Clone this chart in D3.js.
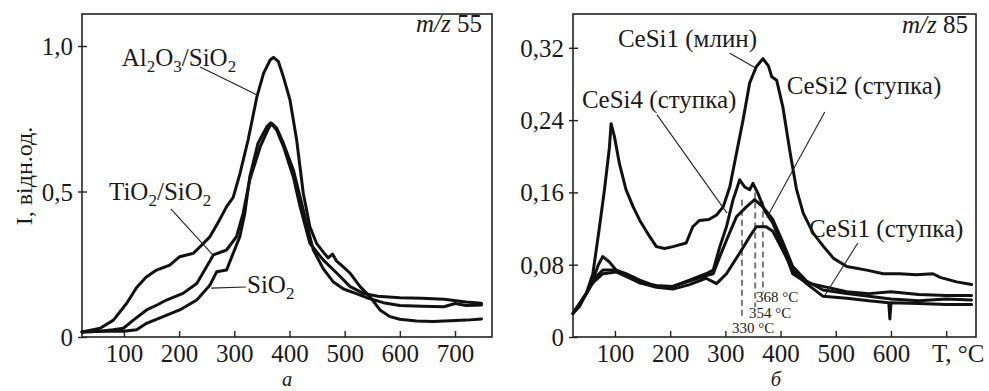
<!DOCTYPE html>
<html><head><meta charset="utf-8">
<script src="https://cdn.jsdelivr.net/npm/d3@7"></script>
<style>
html,body{margin:0;padding:0;background:#fff;}
svg{display:block;}
text{font-family:"Liberation Serif","DejaVu Serif",serif;fill:#1a1a1a;}
</style></head>
<body><svg id="c" width="989" height="391"></svg>
<script>
// ---------- DATA ----------
// Panel a (m/z 55): [T, I]
const al2o3 = [[24,0.017],[57,0.03],[81,0.058],[105,0.116],[123,0.17],[140,0.205],[159,0.23],[183,0.247],[201,0.276],[226,0.288],[238,0.31],[256,0.345],[274,0.405],[286,0.448],[298,0.48],[310,0.56],[325,0.677],[341,0.826],[353,0.906],[365,0.952],[371,0.961],[380,0.946],[389,0.894],[401,0.814],[413,0.677],[425,0.494],[437,0.379],[449,0.322],[462,0.29],[470,0.272],[478,0.285],[485,0.262],[497,0.242],[510,0.219],[528,0.173],[546,0.138],[564,0.093],[582,0.07],[600,0.061],[630,0.055],[660,0.053],[691,0.056],[721,0.058],[748,0.062]];
const tio2 = [[24,0.017],[57,0.02],[80,0.025],[99,0.03],[117,0.058],[141,0.093],[160,0.11],[177,0.127],[207,0.15],[232,0.184],[250,0.242],[262,0.282],[286,0.299],[304,0.345],[316,0.425],[328,0.54],[347,0.654],[362,0.717],[368,0.734],[377,0.717],[389,0.666],[407,0.574],[422,0.46],[431,0.39],[443,0.3],[461,0.235],[479,0.19],[498,0.165],[520,0.15],[540,0.135],[570,0.118],[600,0.108],[640,0.106],[680,0.104],[700,0.115],[720,0.108],[748,0.11]];
const sio2 = [[24,0.017],[60,0.02],[99,0.02],[123,0.025],[141,0.047],[171,0.07],[201,0.093],[232,0.127],[256,0.179],[268,0.224],[286,0.23],[298,0.288],[310,0.345],[319,0.425],[328,0.55],[343,0.666],[359,0.723],[366,0.736],[377,0.71],[389,0.655],[407,0.55],[419,0.45],[437,0.322],[461,0.265],[486,0.219],[510,0.173],[534,0.15],[560,0.14],[600,0.135],[640,0.133],[680,0.13],[720,0.12],[748,0.116]];
// Panel б (m/z 85)
const cesi1mlin = [[24,0.026],[36,0.034],[48,0.048],[60,0.07],[72,0.122],[81,0.163],[90,0.21],[93,0.236],[99,0.222],[108,0.192],[120,0.163],[133,0.144],[145,0.129],[163,0.111],[175,0.1],[190,0.098],[205,0.1],[229,0.104],[241,0.122],[253,0.129],[270,0.13],[284,0.135],[296,0.144],[308,0.166],[320,0.203],[332,0.24],[344,0.281],[356,0.299],[368,0.308],[378,0.3],[384,0.288],[393,0.284],[404,0.255],[417,0.205],[429,0.163],[441,0.137],[459,0.115],[478,0.1],[496,0.087],[520,0.078],[556,0.074],[586,0.07],[616,0.07],[646,0.069],[676,0.07],[689,0.066],[719,0.061],[746,0.058]];
const cesi4 = [[24,0.026],[48,0.048],[60,0.063],[70,0.08],[78,0.089],[90,0.083],[102,0.074],[120,0.07],[145,0.063],[175,0.056],[205,0.056],[235,0.063],[265,0.07],[278,0.074],[290,0.1],[302,0.122],[314,0.152],[326,0.174],[335,0.166],[344,0.163],[350,0.17],[359,0.159],[371,0.14],[386,0.126],[404,0.1],[422,0.07],[447,0.06],[477,0.056],[520,0.05],[560,0.048],[600,0.05],[650,0.047],[700,0.046],[746,0.046]];
const cesi2 = [[24,0.026],[48,0.048],[60,0.063],[78,0.074],[102,0.074],[120,0.068],[145,0.06],[175,0.057],[205,0.056],[235,0.062],[265,0.068],[278,0.07],[290,0.089],[302,0.107],[320,0.133],[338,0.144],[353,0.152],[368,0.144],[386,0.13],[404,0.105],[422,0.078],[447,0.062],[477,0.052],[520,0.048],[560,0.045],[600,0.042],[650,0.04],[700,0.042],[746,0.041]];
const cesi1st = [[24,0.026],[48,0.048],[60,0.06],[78,0.07],[102,0.072],[120,0.067],[145,0.06],[175,0.055],[205,0.053],[235,0.058],[265,0.065],[284,0.059],[302,0.07],[326,0.093],[344,0.111],[356,0.122],[374,0.122],[386,0.117],[404,0.096],[422,0.074],[447,0.059],[477,0.045],[520,0.043],[560,0.04],[596,0.038],[598,0.02],[600,0.038],[650,0.037],[700,0.036],[746,0.036]];
// peak temperatures [T, top I, bottom I, label]
const peaks = [[330,0.152,0.019,"330 °C"],[354,0.16,0.033,"354 °C"],[368,0.15,0.049,"368 °C"]];
// ticks
const xTicks = [100,200,300,400,500,600,700];
const yTicksA = [0,0.5,1.0];
const yTicksB = [0,0.08,0.16,0.24,0.32];

// ---------- DRAW ----------
const svg = d3.select("#c");
const FS = 25;
const fmtA = d => d === 0 ? "0" : d3.format(".1f")(d).replace(".", ",");
const fmtB = d => d === 0 ? "0" : d3.format(".2f")(d).replace(".", ",");

function panel(x, y, yTicks, yfmt, xlabels) {
  const g = svg.append("g");
  const [x0, x1] = x.range(), [y0, y1] = y.range();
  const ax = g.append("g").attr("transform", `translate(0,${y0})`)
    .call(d3.axisBottom(x).tickValues(xTicks).tickSizeInner(-6).tickSizeOuter(0).tickPadding(7)
      .tickFormat(d => xlabels.includes(d) ? d : ""));
  ax.select(".domain").remove();
  ax.selectAll("line").attr("stroke", "#222").attr("stroke-width", 1.4);
  ax.selectAll("text").attr("font-size", FS).attr("font-family", "Liberation Serif").attr("fill", "#1a1a1a");
  const ay = g.append("g").attr("transform", `translate(${x0},0)`)
    .call(d3.axisLeft(y).tickValues(yTicks).tickSizeInner(4).tickSizeOuter(0).tickPadding(5).tickFormat(yfmt));
  ay.select(".domain").remove();
  ay.selectAll("line").attr("x1", 5).attr("stroke", "#222").attr("stroke-width", 1.4);
  ay.selectAll("text").attr("font-size", FS).attr("font-family", "Liberation Serif").attr("fill", "#1a1a1a").attr("dy", "0.34em");
  g.append("rect").attr("x", x0).attr("y", y1).attr("width", x1 - x0).attr("height", y0 - y1)
    .attr("fill", "none").attr("stroke", "#222").attr("stroke-width", 1.6);
  return g;
}

function curves(g, x, y, series) {
  const line = d3.line().x(d => x(d[0])).y(d => y(d[1])).curve(d3.curveLinear);
  g.selectAll(null).data(series).enter().append("path")
    .attr("d", line).attr("fill", "none").attr("stroke", "#111")
    .attr("stroke-width", 3).attr("stroke-linejoin", "round").attr("stroke-linecap", "round");
}

function leader(g, x, y, a, b) {
  g.append("line").attr("x1", x(a[0])).attr("y1", y(a[1])).attr("x2", x(b[0])).attr("y2", y(b[1]))
    .attr("stroke", "#222").attr("stroke-width", 1.1);
}

function chem(g, px, py, parts) {
  const t = g.append("text").attr("x", px).attr("y", py).attr("font-size", FS);
  let sub = false;
  parts.forEach(([s, isSub]) => {
    const ts = t.append("tspan").text(s);
    if (isSub && !sub) { ts.attr("font-size", FS * 0.68).attr("dy", 6); sub = true; }
    else if (!isSub && sub) { ts.attr("dy", -6); sub = false; }
    else if (isSub) ts.attr("font-size", FS * 0.68);
  });
  return t;
}

function mzTitle(g, px, py, num) {
  const t = g.append("text").attr("x", px).attr("y", py).attr("font-size", FS).attr("text-anchor", "end");
  t.append("tspan").attr("font-style", "italic").text("m/z");
  t.append("tspan").text(" " + num);
}

// ---- Panel a ----
const xA = d3.scaleLinear([24, 767], [82, 492]);
const yA = d3.scaleLinear([0, 1.11], [337, 14]);
const gA = panel(xA, yA, yTicksA, fmtA, [100,200,300,400,500,600,700]);
curves(gA, xA, yA, [al2o3, tio2, sio2]);
leader(gA, xA, yA, [238, 0.928], [341, 0.832]);
leader(gA, xA, yA, [185, 0.44], [261, 0.282]);
leader(gA, xA, yA, [321, 0.172], [258, 0.168]);
chem(gA, xA(96), yA(0.93), [["Al",0],["2",1],["O",0],["3",1],["/SiO",0],["2",1]]);
chem(gA, xA(73), yA(0.472), [["TiO",0],["2",1],["/SiO",0],["2",1]]);
chem(gA, xA(323), yA(0.15), [["SiO",0],["2",1]]);
mzTitle(gA, 482, 32, "55");
svg.append("text").attr("transform", "translate(32,176) rotate(-90)").attr("text-anchor", "middle")
  .attr("font-size", 24).text("I, відн.од.");
svg.append("text").attr("x", 287).attr("y", 386.2).attr("text-anchor", "middle")
  .attr("font-size", 20.5).attr("font-style", "italic").text("а");

// ---- Panel б ----
const xB = d3.scaleLinear([24, 754], [573, 976]);
const yB = d3.scaleLinear([0, 0.3574], [337, 14]);
const gB = panel(xB, yB, yTicksB, fmtB, [100,200,300,400,500,600]);
gB.selectAll(null).data(peaks).enter().append("line")
  .attr("x1", d => xB(d[0])).attr("x2", d => xB(d[0]))
  .attr("y1", d => yB(d[1])).attr("y2", d => yB(d[2]))
  .attr("stroke", "#777").attr("stroke-width", 2).attr("stroke-dasharray", "6,4");
curves(gB, xB, yB, [cesi1mlin, cesi4, cesi2, cesi1st]);
gB.selectAll(null).data(peaks).enter().append("text")
  .attr("x", (d, i) => [732, 749, 756][i]).attr("y", (d, i) => [333, 318, 302][i])
  .attr("font-size", 15).text(d => d[3]);
leader(gB, xB, yB, [308, 0.314], [354, 0.298]);
leader(gB, xB, yB, [480, 0.249], [375, 0.132]);
leader(gB, xB, yB, [176, 0.246], [303, 0.137]);
leader(gB, xB, yB, [540, 0.104], [480, 0.046]);
const lbl = (T, I, s) => gB.append("text").attr("x", xB(T)).attr("y", yB(I)).attr("font-size", FS).text(s);
lbl(105.4, 0.321, "CeSi1 (млин)");
lbl(411.2, 0.269, "CeSi2 (ступка)");
lbl(40.2, 0.253, "CeSi4 (ступка)");
lbl(451.4, 0.111, "CeSi1 (ступка)");
mzTitle(gB, 968, 33, "85");
gB.append("text").attr("x", xB(700) + 12).attr("y", 362).attr("text-anchor", "middle")
  .attr("font-size", FS).text("T, °C");
svg.append("text").attr("x", 776).attr("y", 386.2).attr("text-anchor", "middle")
  .attr("font-size", 20.5).attr("font-style", "italic").text("б");
</script></body></html>
